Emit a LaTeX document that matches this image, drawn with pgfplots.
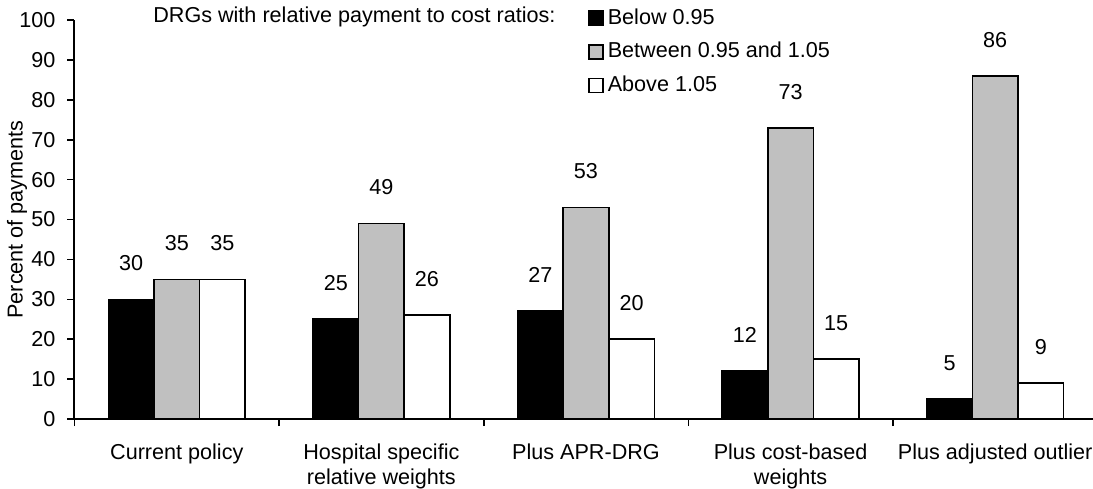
\documentclass[border=0pt]{standalone}
\usepackage{fontspec}
\setmainfont{Liberation Sans}
\usepackage{pgfplots}
\pgfplotsset{compat=1.18}
\definecolor{barGray}{HTML}{C0C0C0}
\begin{document}
\fontsize{10.8}{12.8}\selectfont
\begin{tikzpicture}
\begin{axis}[
  width=509.25pt, height=199.5pt, scale only axis,
  clip=false,
  xmin=-0.5, xmax=4.478, ymin=0, ymax=100,
  axis x line=bottom, axis y line=left,
  axis line style={-, line width=1pt},
  ytick={0,10,...,100},
  xtick={-0.5,0.5,1.5,2.5,3.5},
  xticklabels={},
  extra x ticks={0,1,2,3,4},
  extra x tick labels={Current policy, Hospital specific\\relative weights, Plus APR-DRG, Plus cost-based\\weights, Plus adjusted outlier},
  extra x tick style={major tick length=0pt},
  xticklabel style={align=center, yshift=-8.5pt},
  yticklabel style={xshift=-2.2pt},
  tick align=outside, major tick length=3.5pt,
  tick style={black, line width=0.8pt},
  ylabel={Percent of payments},
  ylabel style={at={(axis description cs:-0.0565,0.5)}, anchor=center, rotate=0},
  ybar=0pt, bar width=22.8pt,
  nodes near coords,
  nodes near coords style={anchor=center, yshift=18pt, text=black},
  /pgf/number format/assume math mode=true,
  legend image code/.code={\draw[#1, line width=0.8pt] (0pt,-3.5pt) rectangle (7pt,3.5pt);},
  legend style={draw=none, fill=none, at={(rel axis cs:0.504,1.04)}, anchor=north west,
    inner sep=0pt, row sep=3.5pt, legend cell align=left, nodes={inner sep=2pt}},
]
\addplot[fill=black, draw=black, line width=0.8pt] coordinates {(0,30) (1,25) (2,27) (3,12) (4,5)};
\addlegendentry{Below 0.95}
\addplot[fill=barGray, draw=black, line width=0.8pt] coordinates {(0,35) (1,49) (2,53) (3,73) (4,86)};
\addlegendentry{Between 0.95 and 1.05}
\addplot[fill=white, draw=black, line width=0.8pt] coordinates {(0,35) (1,26) (2,20) (3,15) (4,9)};
\addlegendentry{Above 1.05}
\node[anchor=west, inner sep=0pt] at (rel axis cs:0.077,1.0075) {DRGs with relative payment to cost ratios:};
\end{axis}
\pgfresetboundingbox
\useasboundingbox (-37.25pt,-34.5pt) rectangle (509.25pt,209.5pt);
\end{tikzpicture}
\end{document}
